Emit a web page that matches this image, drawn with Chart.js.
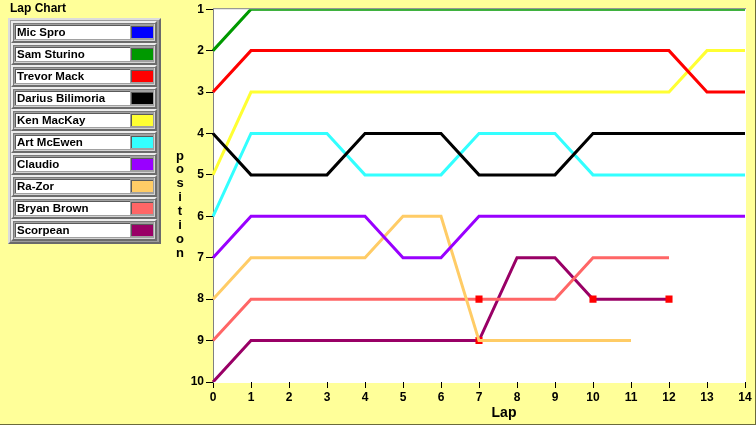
<!DOCTYPE html>
<html>
<head>
<meta charset="utf-8">
<script src="https://cdn.jsdelivr.net/npm/chart.js@4.4.1/dist/chart.umd.min.js"></script>
<style>
  html, body { margin: 0; padding: 0; background: #ffff99; }
  #wrap { position: relative; width: 756px; height: 425px; overflow: hidden; background: #ffff99; }
  #lapChart { position: absolute; left: 0; top: 0; }
  #title { position: absolute; left: 10px; top: 1px; font: bold 12px "Liberation Sans", Arial, sans-serif; color: #000; }
  #legend { position: absolute; left: 8px; top: 18px; width: 149px; height: 222px;
            background: #9c9c9c; border: 2px solid; border-color: #dcdcdc #6a6a6a #6a6a6a #dcdcdc; }
  .row { position: absolute; left: 1px; width: 142px; height: 18px;
         background: #a0a0a0; border: 2px solid; border-color: #ececec #6c6c6c #6c6c6c #ececec;
         box-shadow: inset 1px 1px 0 #7a7a7a, inset -1px -1px 0 #d4d4d4; }
  .name { position: absolute; left: 2px; top: 2px; width: 115px; height: 14px; background: #fff;
          border-left: 1px solid #5a5a5a; border-top: 1px solid #5a5a5a; box-sizing: border-box;
          font: bold 11.5px "Liberation Sans", Arial, sans-serif; line-height: 13px; padding-left: 1px; white-space: nowrap; overflow: hidden; }
  .sw { position: absolute; left: 118px; top: 3px; width: 22px; height: 12px;
        border-left: 1px solid #5a5a5a; border-top: 1px solid #5a5a5a; box-sizing: border-box; }
  .edge-r { position: absolute; right: 0; top: 0; width: 1px; height: 425px; background: #6b6b3a; }
  .edge-b { position: absolute; left: 0; bottom: 0; width: 756px; height: 1px; background: #6b6b3a; }
</style>
</head>
<body>
<div id="wrap">
  <canvas id="lapChart" width="756" height="425"></canvas>
  <div id="title">Lap Chart</div>
  <div id="legend"></div>
  <div class="edge-r"></div>
  <div class="edge-b"></div>
</div>
<script>
// laps on the x axis
const laps = ['0', '1', '2', '3', '4', '5', '6', '7', '8', '9', '10', '11', '12', '13', '14'];

// drivers, in legend order
const drivers = ['Mic Spro', 'Sam Sturino', 'Trevor Mack', 'Darius Bilimoria', 'Ken MacKay',
                 'Art McEwen', 'Claudio', 'Ra-Zor', 'Bryan Brown', 'Scorpean'];
const colors = ['#0000ff', '#009900', '#ff0000', '#000000', '#ffff33',
                '#33ffff', '#9900ff', '#ffcc66', '#ff6666', '#990066'];

// position per lap
const micSpro = [];
const samSturino = [2, 1, 1, 1, 1, 1, 1, 1, 1, 1, 1, 1, 1, 1, 1];
const trevorMack = [3, 2, 2, 2, 2, 2, 2, 2, 2, 2, 2, 2, 2, 3, 3];
const dariusBilimoria = [4, 5, 5, 5, 4, 4, 4, 5, 5, 5, 4, 4, 4, 4, 4];
const kenMacKay = [5, 3, 3, 3, 3, 3, 3, 3, 3, 3, 3, 3, 3, 2, 2];
const artMcEwen = [6, 4, 4, 4, 5, 5, 5, 4, 4, 4, 5, 5, 5, 5, 5];
const claudio = [7, 6, 6, 6, 6, 7, 7, 6, 6, 6, 6, 6, 6, 6, 6];
const raZor = [8, 7, 7, 7, 7, 6, 6, 9, 9, 9, 9, 9];
const bryanBrown = [9, 8, 8, 8, 8, 8, 8, 8, 8, 8, 7, 7, 7];
const scorpean = [10, 9, 9, 9, 9, 9, 9, 9, 7, 7, 8, 8, 8];

// laps with a pit stop marker
const bryanBrownPits = [7];
const scorpeanPits = [7, 10, 12];

const positions = [micSpro, samSturino, trevorMack, dariusBilimoria, kenMacKay,
                   artMcEwen, claudio, raZor, bryanBrown, scorpean];
const pits = [[], [], [], [], [], [], [], [], bryanBrownPits, scorpeanPits];

// html legend, like the original panel
const legend = document.getElementById('legend');
drivers.forEach(function(name, i) {
    const row = document.createElement('div');
    row.className = 'row';
    row.style.top = (1 + i * 22) + 'px';
    const label = document.createElement('div');
    label.className = 'name';
    label.textContent = name;
    const sw = document.createElement('div');
    sw.className = 'sw';
    sw.style.background = colors[i];
    row.appendChild(label);
    row.appendChild(sw);
    legend.appendChild(row);
});

// white plot area + gray frame and the axis titles
const plotFrame = {
    id: 'plotFrame',
    beforeDraw(chart) {
        const a = chart.chartArea;
        const c = chart.ctx;
        c.save();
        c.fillStyle = '#ffffff';
        c.fillRect(a.left, a.top - 1, a.right - a.left + 1, a.bottom - a.top + 2);
        c.fillStyle = '#808080';
        c.fillRect(a.left, a.top - 1, a.right - a.left + 1, 1);
        c.restore();
    },
    afterDraw(chart) {
        const a = chart.chartArea;
        const c = chart.ctx;
        c.save();
        c.fillStyle = '#000';
        c.textAlign = 'center';
        c.textBaseline = 'middle';
        c.font = 'bold 14px "Liberation Sans", Arial, sans-serif';
        c.fillText('Lap', (a.left + a.right) / 2 + 25, 413);
        c.font = 'bold 13px "Liberation Sans", Arial, sans-serif';
        const word = 'position';
        for (let i = 0; i < word.length; i++) {
            c.fillText(word[i], 180, 156 + i * 13.9);
        }
        c.restore();
    }
};

Chart.defaults.font.family = '"Liberation Sans", Arial, sans-serif';
Chart.defaults.font.size = 12;
Chart.defaults.font.weight = 'bold';
Chart.defaults.color = '#000';

const ctx = document.getElementById('lapChart').getContext('2d');
const lapChart = new Chart(ctx, {
    type: 'line',
    data: {
        labels: laps,
        datasets: drivers.map(function(name, i) {
            return {
                label: name,
                data: positions[i],
                borderColor: colors[i],
                borderWidth: 3,
                fill: false,
                tension: 0,
                pointStyle: 'rect',
                pointRadius: function(c) { return pits[i].includes(c.dataIndex) ? 5 : 0; },
                pointBackgroundColor: '#ff0000',
                pointBorderWidth: 0,
                spanGaps: false
            };
        })
    },
    options: {
        responsive: false,
        animation: false,
        events: [],
        layout: {
            padding: { left: 0, right: 11, top: 9, bottom: 0 }
        },
        plugins: {
            legend: { display: false },
            tooltip: { enabled: false }
        },
        scales: {
            x: {
                grid: { drawOnChartArea: false, tickLength: 6, tickColor: '#000' },
                border: { display: false },
                ticks: { padding: 2, maxRotation: 0, autoSkip: false },
                afterFit: function(scale) { scale.height = 43; }
            },
            y: {
                reverse: true,
                min: 1,
                max: 10,
                ticks: { stepSize: 1, padding: 2 },
                grid: { drawOnChartArea: false, tickLength: 7, tickColor: '#000' },
                border: { display: true, color: '#808080', width: 1 },
                afterFit: function(scale) { scale.width = 213; }
            }
        }
    },
    plugins: [plotFrame]
});
</script>
</body>
</html>
